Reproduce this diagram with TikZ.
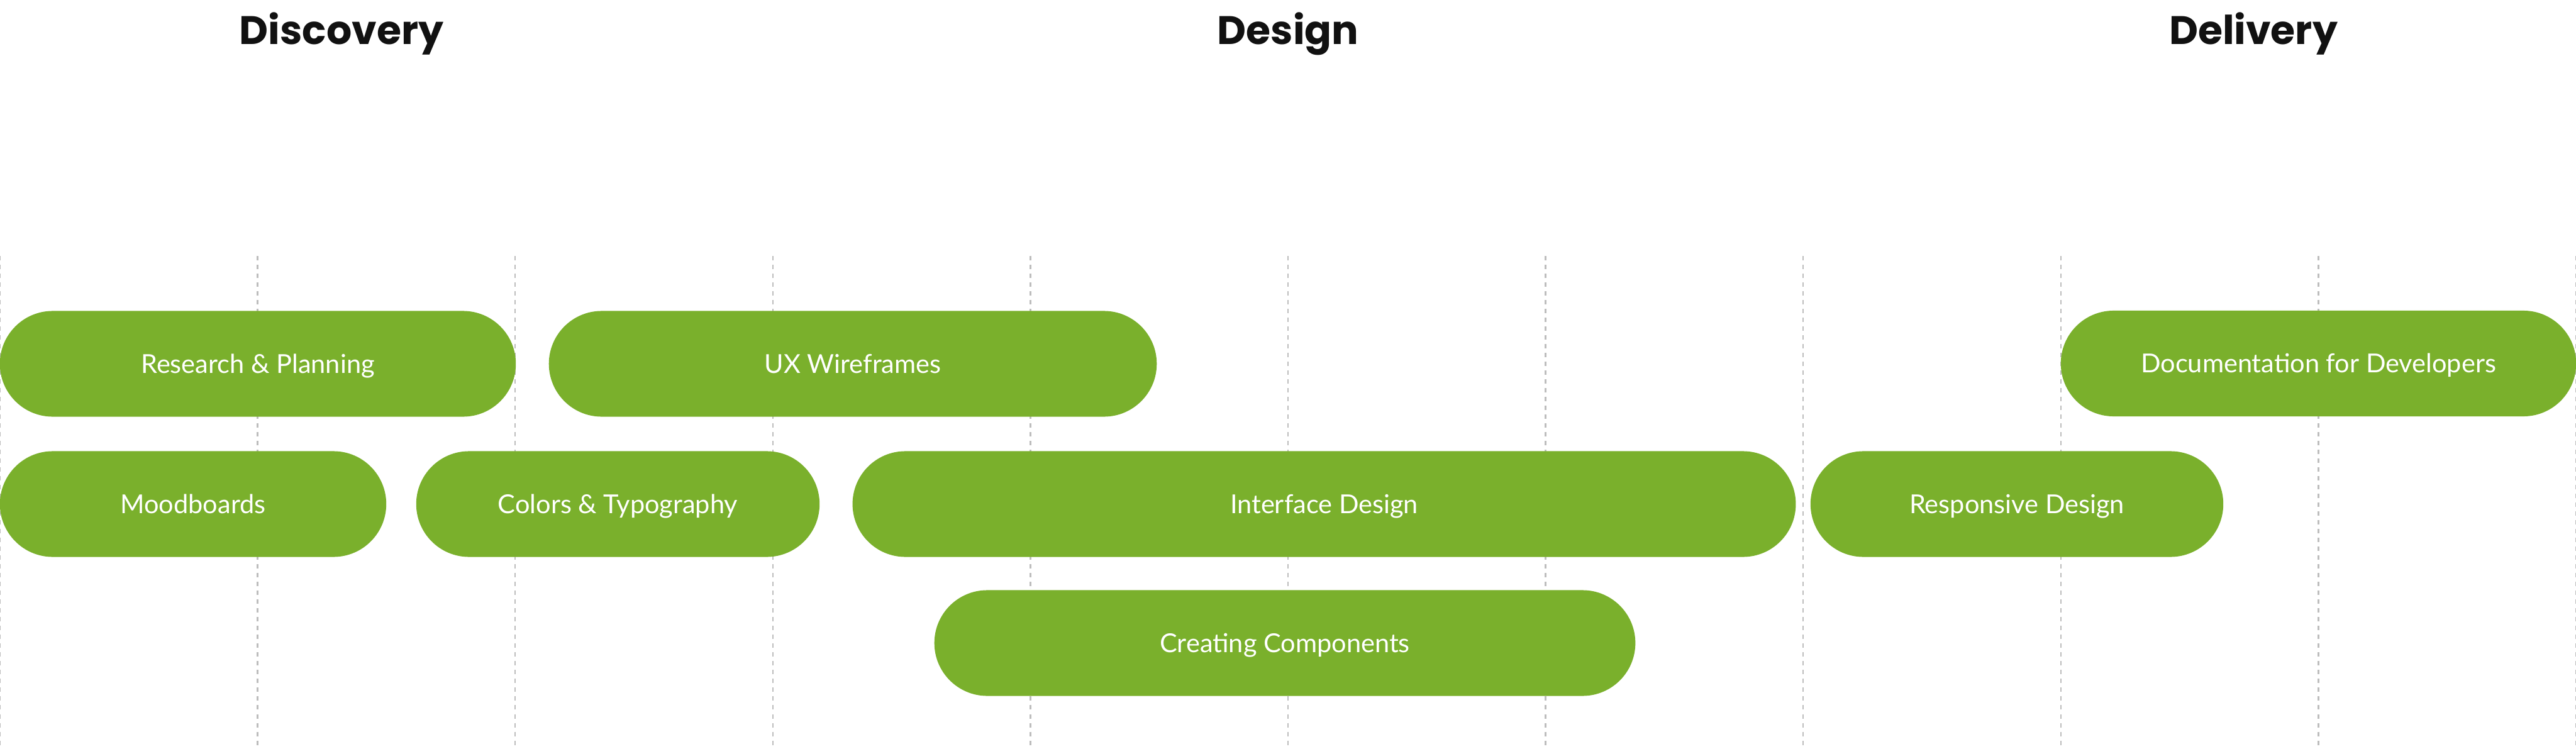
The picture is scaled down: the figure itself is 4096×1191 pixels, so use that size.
\documentclass[tikz,border=0pt]{standalone}
\usepackage{fontspec}
\usetikzlibrary{shapes.misc}
\setmainfont{Lato}
\newfontfamily\titlefont{Poppins}
\definecolor{bargreen}{HTML}{7AB02C}
\definecolor{gridgray}{HTML}{BDBDBD}
\definecolor{titleink}{HTML}{111111}
\begin{document}
\begin{tikzpicture}[x=0.01cm,y=-0.01cm,
  bar/.style={rounded rectangle, fill=bargreen, draw=none, minimum height=1.68cm,
    inner sep=0pt, text=white, font=\fontsize{11.8pt}{14pt}\selectfont,
    text height=8.5pt, text depth=0pt},
  phase/.style={anchor=base, text=titleink, font=\titlefont\bfseries\fontsize{18pt}{22pt}\selectfont},
  grid/.style={draw=gridgray, line width=0.7pt, dash pattern=on 0.07cm off 0.07cm}]
\useasboundingbox (0,0) rectangle (4096,1191);
\fill[white] (0,0) rectangle (4096,1191);
% grid lines
\foreach \i in {0,...,10} {
  \draw[grid] ({\i*409.6},407) -- ({\i*409.6},1191);
}
% phase titles
\node[phase] (discovery) at (543,71) {Discovery};
\node[phase] (design) at (2048,71) {Design};
\node[phase] (delivery) at (3583,71) {Delivery};
% row 1
\node[bar, minimum width=8.20cm] (rp) at (410,578.5) {Research \& Planning};
\node[bar, minimum width=9.66cm] (ux) at (1356,578.5) {UX Wireframes};
\node[bar, minimum width=8.19cm] (doc) at (3686.5,578) {Documentation for Developers};
% row 2
\node[bar, minimum width=6.14cm] (mood) at (307,801.5) {Moodboards};
\node[bar, minimum width=6.41cm] (col) at (982.5,801.5) {Colors \& Typography};
\node[bar, minimum width=14.99cm] (ifd) at (2105.5,801.5) {Interface Design};
\node[bar, minimum width=6.56cm] (resp) at (3207,801.5) {Responsive Design};
% row 3
\node[bar, minimum width=11.14cm] (comp) at (2043,1022.5) {Creating Components};
\end{tikzpicture}
\end{document}
